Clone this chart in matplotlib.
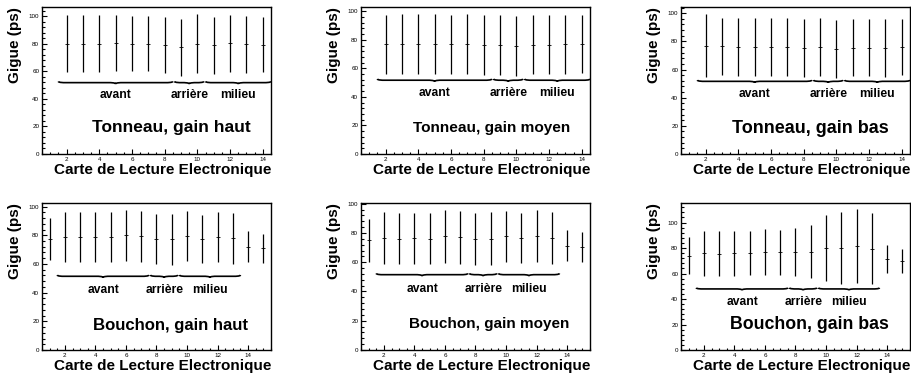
import numpy as np
import matplotlib
matplotlib.use('Agg')
import matplotlib.pyplot as plt
from matplotlib.path import Path
from matplotlib.patches import PathPatch
from matplotlib.ticker import MultipleLocator

plt.rcParams['font.family'] = ['Liberation Sans', 'DejaVu Sans']

# numero de carte : tonneau 2..14, bouchon 1..15
cartes_tonneau = list(range(2, 15))
cartes_bouchon = list(range(1, 16))

# gigue moyenne et largeur (ps)
tonneau_haut = [80.2, 80.2, 80.2, 80.4, 80.2, 80.2, 79.2, 77.6, 80.1, 78.8, 80.5, 79.6, 79.3]
tonneau_haut_err = [20.4, 20.4, 20.4, 20.2, 20.3, 20.3, 20.4, 20.7, 21.3, 20.8, 20.7, 20.8, 19.8]

tonneau_moyen = [76.8, 77.25, 77.15, 77.1, 76.8, 77.1, 76.35, 76.45, 75.65, 76.65, 76.65, 77.05, 77.05]
tonneau_moyen_err = [20.9, 20.85, 20.75, 20.8, 20.6, 20.8, 20.85, 20.95, 20.85, 20.75, 20.75, 20.65, 20.15]

tonneau_bas = [76.9, 76.4, 76.25, 76.05, 76.25, 75.95, 75.25, 76.05, 74.85, 75.6, 75.6, 75.35, 75.85]
tonneau_bas_err = [22.2, 20.5, 20.65, 20.45, 20.65, 20.75, 20.75, 20.65, 20.65, 20.2, 20.2, 20.65, 19.95]

bouchon_haut = [77.35, 78.85, 78.6, 78.85, 78.6, 79.9, 79.3, 77.45, 77.2, 79.75, 77.45, 78.6, 77.9, 72.0, 70.8]
bouchon_haut_err = [14.75, 17.65, 17.4, 17.65, 17.4, 18.0, 17.9, 17.45, 17.7, 17.45, 16.95, 17.4, 17.9, 10.8, 10.1]

bouchon_moyen = [74.95, 76.4, 76.1, 76.4, 76.2, 77.75, 77.05, 75.95, 76.05, 77.9, 76.55, 77.85, 76.85, 71.3, 70.45]
bouchon_moyen_err = [14.65, 17.7, 17.4, 17.5, 17.3, 17.95, 17.95, 17.75, 18.05, 17.4, 16.95, 17.85, 17.75, 10.4, 9.95]

bouchon_bas = [73.95, 75.75, 75.65, 75.75, 75.9, 76.95, 76.6, 76.85, 77.1, 79.8, 79.85, 81.35, 79.55, 71.1, 69.55]
bouchon_bas_err = [14.35, 17.45, 17.35, 17.45, 17.3, 17.85, 17.7, 18.75, 20.6, 25.9, 28.25, 29.05, 27.75, 10.9, 9.35]

# zones (debut, fin) pour les accolades
zones_tonneau = [('avant', 1.5, 8.5), ('arri\u00e8re', 8.6, 10.4), ('milieu', 10.5, 14.5)]
zones_bouchon = [('avant', 1.5, 7.5), ('arri\u00e8re', 7.6, 9.4), ('milieu', 9.5, 13.5)]

W, H = 912, 378
fig = plt.figure(figsize=(W / 100, H / 100), dpi=100)


def accolade(ax, x0, x1, y, h=0.9, d=0.35):
    xm = 0.5 * (x0 + x1)
    verts = [(x0, y + h), (x0, y), (x0 + d, y), (x0 + d, y),
             (xm - d, y),
             (xm - d, y), (xm, y), (xm, y - h),
             (xm, y), (xm + d, y), (xm + d, y),
             (x1 - d, y),
             (x1 - d, y), (x1, y), (x1, y + h)]
    codes = [Path.MOVETO, Path.CURVE4, Path.CURVE4, Path.CURVE4,
             Path.LINETO,
             Path.CURVE4, Path.CURVE4, Path.CURVE4,
             Path.CURVE4, Path.CURVE4, Path.CURVE4,
             Path.LINETO,
             Path.CURVE4, Path.CURVE4, Path.CURVE4]
    ax.add_patch(PathPatch(Path(verts, codes), fc='none', ec='black', lw=1.2))


def panneau(left, top, x, y, yerr, xlim, ylim, zones, yacc, ylab, titre, tx, ty, tsize):
    ax = fig.add_axes([left / W, (H - top - 147) / H, 229 / W, 147 / H])
    ax.errorbar(x, y, yerr=yerr, fmt='_', color='black', ms=2.5, mew=0.6,
                elinewidth=0.9, capsize=0)
    ax.set_xlim(*xlim)
    ax.set_ylim(*ylim)
    ax.xaxis.set_major_locator(MultipleLocator(2))
    ax.xaxis.set_minor_locator(MultipleLocator(0.5))
    ax.yaxis.set_major_locator(MultipleLocator(20))
    ax.yaxis.set_minor_locator(MultipleLocator(4))
    ax.tick_params(which='both', direction='in', top=False, right=False,
                   labelsize=4.5, pad=2, width=0.8)
    ax.tick_params(which='major', length=3.5)
    ax.tick_params(which='minor', length=1.8)
    for s in ax.spines.values():
        s.set_linewidth(1.0)
    for nom, a, b in zones:
        accolade(ax, a, b, yacc)
        ax.text(0.5 * (a + b), ylab, nom, ha='center', va='center',
                fontsize=8.7, fontweight='bold')
    ax.text(tx, ty, titre, ha='center', va='center', fontsize=tsize,
            fontweight='bold')
    ax.text(-27 / 229, 1.0, 'Gigue (ps)', rotation=90, ha='center', va='top',
            transform=ax.transAxes, fontsize=11, fontweight='bold')
    ax.text(1.0, -9 / 147, 'Carte de Lecture Electronique', ha='right', va='top',
            transform=ax.transAxes, fontsize=11, fontweight='bold')
    return ax


panneau(42, 7, cartes_tonneau, tonneau_haut, tonneau_haut_err, (0.5, 14.5), (0, 106.7),
        zones_tonneau, 51.8, 42.9, 'Tonneau, gain haut', 8.4, 19.3, 12.5)
panneau(361, 7, cartes_tonneau, tonneau_moyen, tonneau_moyen_err, (0.5, 14.5), (0, 103),
        zones_tonneau, 51.7, 42.5, 'Tonneau, gain moyen', 8.5, 18.4, 11.1)
panneau(681, 7, cartes_tonneau, tonneau_bas, tonneau_bas_err, (0.5, 14.5), (0, 104.4),
        zones_tonneau, 51.6, 42.3, 'Tonneau, gain bas', 8.4, 18.3, 13.0)

panneau(42, 203, cartes_bouchon, bouchon_haut, bouchon_haut_err, (0.5, 15.5), (0, 102.5),
        zones_bouchon, 51.4, 42.0, 'Bouchon, gain haut', 8.9, 17.4, 12.1)
panneau(361, 203, cartes_bouchon, bouchon_moyen, bouchon_moyen_err, (0.5, 15.5), (0, 100.5),
        zones_bouchon, 51.5, 42.0, 'Bouchon, gain moyen', 8.9, 17.6, 11.0)
panneau(681, 203, cartes_bouchon, bouchon_bas, bouchon_bas_err, (0.5, 15.5), (0, 115.3),
        zones_bouchon, 47.9, 37.5, 'Bouchon, gain bas', 8.9, 19.8, 12.8)

fig.savefig('out.png', dpi=100)
